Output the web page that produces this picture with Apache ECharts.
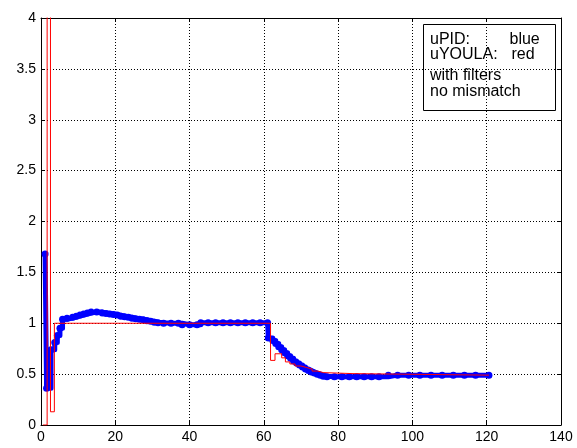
<!DOCTYPE html>
<html>
<head>
<meta charset="utf-8">
<script src="https://cdn.jsdelivr.net/npm/echarts@6/dist/echarts.min.js"></script>
<style>
html,body{margin:0;padding:0;background:#fff;}
#c{width:577px;height:448px;}
</style>
</head>
<body>
<div id="c"></div>
<script>
// uPID (blue): x where each level starts, level value
var bluX = [1.1, 1.5, 2.7, 3.7, 4.4, 5.1, 5.8, 7, 8.5, 9.5, 10.5, 11.5, 12.5, 13.5, 15, 16.5, 17.5, 18.5, 19.5, 20.5, 21.5, 22.5, 23.5, 24.5, 25.5, 26.5, 27.5, 28.5, 29.5, 30.5, 31.5, 33, 35, 37, 38, 40, 42, 43, 45, 47, 49, 51, 53, 55, 57, 59, 61, 61.2, 62.4, 63.2, 64, 64.8, 65.6, 66.4, 67.2, 68, 68.8, 69.6, 70.4, 71.2, 72, 72.8, 73.6, 74.4, 75.2, 76, 77, 79, 81, 83, 85, 87, 89, 91, 93.5, 96, 99, 102, 105, 108, 111, 114, 117, 120.6];
var bluY = [1.68, 0.36, 0.74, 0.81, 0.88, 0.95, 1.04, 1.05, 1.06, 1.07, 1.08, 1.09, 1.10, 1.11, 1.11, 1.10, 1.095, 1.09, 1.085, 1.08, 1.07, 1.065, 1.06, 1.05, 1.045, 1.04, 1.035, 1.025, 1.02, 1.01, 1.005, 1.0, 1.0, 1.0, 0.985, 0.985, 0.985, 1.005, 1.005, 1.005, 1.005, 1.005, 1.005, 1.005, 1.005, 1.005, 1.005, 0.855, 0.83, 0.80, 0.77, 0.74, 0.71, 0.68, 0.655, 0.63, 0.61, 0.59, 0.57, 0.55, 0.535, 0.52, 0.51, 0.50, 0.49, 0.48, 0.475, 0.475, 0.475, 0.475, 0.475, 0.475, 0.475, 0.475, 0.49, 0.49, 0.49, 0.49, 0.49, 0.49, 0.49, 0.49, 0.49, 0.49];
// uYOULA (red): x where each level starts, level value (spike goes off-scale)
var redX = [0.5, 1.65, 2.55, 3.6, 61.8, 63, 64.8, 65.8, 67, 68.4, 70, 71.5, 73, 74.5, 76, 84, 120.6];
var redY = [0, 4.5, 0.13, 1.0, 0.635, 0.70, 0.66, 0.62, 0.60, 0.58, 0.565, 0.55, 0.53, 0.515, 0.505, 0.49, 0.49];
var xTicks = {min: 0, max: 140, interval: 20};
var yTicks = {min: 0, max: 4, interval: 0.5};
var noteLines = ['uPID:', 'uYOULA:', 'with filters', 'no mismatch'];
var noteColors = ['blue', 'red'];

function pairs(xs, ys) { return xs.map(function (x, i) { return [x, ys[i]]; }); }

var FONT = '"Liberation Sans", Arial, Helvetica, sans-serif';
var chart = echarts.init(document.getElementById('c'), null, {renderer: 'canvas'});

function axisBase(pos, t, showLabel, showSplit) {
  return {
    type: 'value', position: pos, min: t.min, max: t.max, interval: t.interval,
    axisLine: {show: true, onZero: false, lineStyle: {color: '#000', width: 1}},
    axisTick: {show: true, inside: true, length: 4, lineStyle: {color: '#000', width: 1}},
    axisLabel: {show: showLabel, color: '#000', fontSize: 14, fontFamily: FONT, margin: 5},
    splitLine: {show: showSplit, lineStyle: {color: '#000', width: 1, type: [1, 2]}}
  };
}

var notes = [
  {t: noteLines[0], x: 430, y: 39.5},
  {t: noteColors[0], x: 509.5, y: 39.5},
  {t: noteLines[1], x: 430, y: 55},
  {t: noteColors[1], x: 511.5, y: 55},
  {t: noteLines[2], x: 430, y: 75.5},
  {t: noteLines[3], x: 430, y: 91.5}
];

var graphics = [{
  type: 'rect', shape: {x: 423.5, y: 24.5, width: 132, height: 86},
  style: {fill: 'none', stroke: '#000', lineWidth: 1}, z: 100
}];
notes.forEach(function (n) {
  graphics.push({
    type: 'text', x: n.x, y: n.y, z: 100,
    style: {text: n.t, fill: '#000', font: '16px ' + FONT, textAlign: 'left', textVerticalAlign: 'middle'}
  });
});

chart.setOption({
  animation: false,
  backgroundColor: '#fff',
  grid: {left: 41, right: 16, top: 18, bottom: 23, containLabel: false},
  xAxis: [axisBase('bottom', xTicks, true, true), axisBase('top', xTicks, false, false)],
  yAxis: [axisBase('left', yTicks, true, true), axisBase('right', yTicks, false, false)],
  series: [
    {
      name: 'uPID', type: 'line', step: 'end', data: pairs(bluX, bluY),
      xAxisIndex: 0, yAxisIndex: 0, clip: true,
      lineStyle: {color: '#0000ff', width: 5, cap: 'round', join: 'round'},
      itemStyle: {color: '#0000ff', borderWidth: 0},
      symbol: 'circle', symbolSize: 7, showSymbol: true, z: 2
    },
    {
      name: 'uYOULA', type: 'line', step: 'end', data: pairs(redX, redY),
      xAxisIndex: 0, yAxisIndex: 0, clip: true,
      lineStyle: {color: '#ff0000', width: 1},
      symbol: 'none', z: 3
    }
  ],
  graphic: graphics
});
</script>
</body>
</html>
